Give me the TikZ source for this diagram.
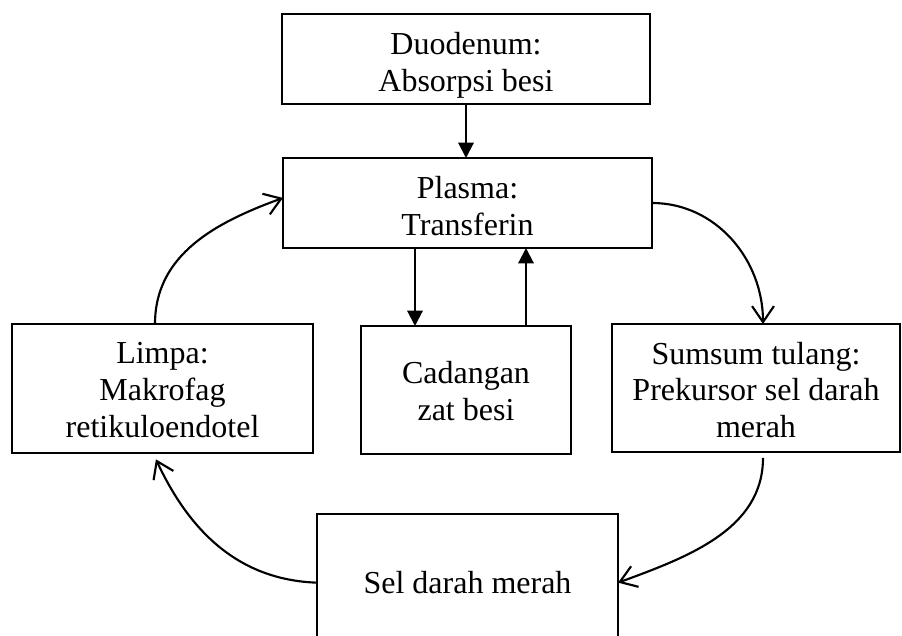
\documentclass[tikz,border=0pt]{standalone}
\usepackage{fontspec}
\setmainfont{Liberation Serif}
\usetikzlibrary{arrows.meta}
\begin{document}
\begin{tikzpicture}[x=0.375pt,y=-0.375pt,
  box/.style={draw, line width=0.85pt, inner sep=0pt, outer sep=0pt},
  txt/.style={inner sep=0pt, align=center, font=\fontsize{12}{13.8}\selectfont},
  farr/.style={line width=0.8pt, -{Triangle[length=5.8pt,width=5.8pt]}},
  carr/.style={line width=0.8pt, -{Straight Barb[length=6pt,width=8.2pt]}}]
\useasboundingbox (0,0) rectangle (902,636);
\node[box, minimum width=138pt, minimum height=33.75pt] (duo) at (466,59) {};
\node[box, minimum width=138.4pt, minimum height=33.75pt] (plasma) at (467.5,203) {};
\node[box, minimum width=112.9pt, minimum height=48.4pt] (limpa) at (162.5,388.5) {};
\node[box, minimum width=78.75pt, minimum height=48pt] (cad) at (466,390) {};
\node[box, minimum width=108pt, minimum height=48pt] (sum) at (756,388) {};
\node[box, minimum width=112.9pt, minimum height=49.5pt] (sel) at (467.5,580) {};
\node[txt] (duot) at (466,65) {Duodenum:\\Absorpsi besi};
\node[txt] (plasmat) at (467.5,206) {Plasma:\\Transferin};
\node[txt] (limpat) at (162.5,390) {Limpa:\\Makrofag\\retikuloendotel};
\node[txt] (cadt) at (466,391) {Cadangan\\zat besi};
\node[txt] (sumt) at (756,390) {Sumsum tulang:\\Prekursor sel darah\\merah};
\node[txt] (selt) at (467.5,583) {Sel darah merah};
\coordinate (xa) at (466,0);
\coordinate (xb) at (415,0);
\coordinate (xc) at (526,0);
\coordinate (xs) at (763,0);
\coordinate (xl) at (153,0);
\coordinate (xm) at (155,0);
\draw[farr] (xa |- duo.south) -- (xa |- plasma.north);
\draw[farr] (xb |- plasma.south) -- (xb |- cad.north);
\draw[farr] (xc |- cad.north) -- (xc |- plasma.south);
\draw[carr] (plasma.east) to[out=0,in=90] (xs |- sum.north);
\draw[carr, shorten <=2.2pt] (xs |- sum.south) to[out=-90,in=20] ([yshift=-1pt]sel.east);
\draw[carr, shorten >=2.6pt] ([yshift=-1pt]sel.west) to[out=178,in=-65] (xl |- limpa.south);
\draw[carr] (xm |- limpa.north) to[out=90,in=200] ([yshift=1.9pt]plasma.west);
\end{tikzpicture}
\end{document}
